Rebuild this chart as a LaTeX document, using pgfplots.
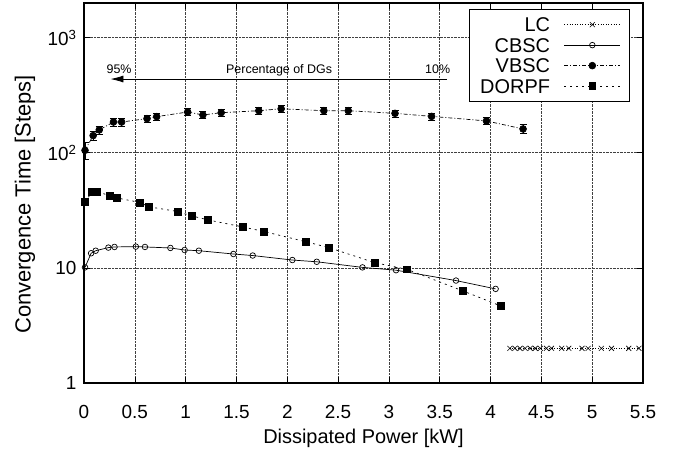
\documentclass[border=0pt]{standalone}
\usepackage{fontspec}
\setmainfont{Liberation Sans}
\usepackage{pgfplots}
\pgfplotsset{compat=1.18}
\usetikzlibrary{arrows.meta}

\pgfplotstableread{
x y
4.19 2
4.24 2
4.29 2
4.34 2
4.39 2
4.44 2
4.49 2
4.55 2
4.60 2
4.70 2
4.77 2
4.90 2
4.96 2
5.09 2
5.19 2
5.36 2
5.46 2
}\lc

\pgfplotstableread{
x y
0.01 10.1
0.07 13.4
0.115 14.1
0.24 15.0
0.30 15.2
0.51 15.3
0.60 15.2
0.85 14.9
0.99 14.3
1.13 14.1
1.47 13.2
1.66 12.8
2.05 11.7
2.29 11.3
2.74 10.1
3.07 9.55
3.66 7.76
4.05 6.57
}\cbsc

\pgfplotstableread{
x y e
0.01 105 17
0.09 141 14
0.15 158 13
0.29 185 15
0.37 185 14
0.62 198 13
0.715 206 14
1.02 226 15
1.17 213 14
1.35 223 15
1.72 232 15
1.94 241 16
2.36 232 15
2.60 232 15
3.06 220 15
3.42 207 14
3.96 189 13
4.32 161 14
}\vbsc

\pgfplotstableread{
x y
0.01 37.3
0.08 45.8
0.125 45.8
0.256 42.5
0.32 40.6
0.55 37.0
0.64 33.9
0.92 30.9
1.06 28.3
1.22 26.1
1.56 22.7
1.77 20.7
2.18 16.9
2.41 15.0
2.86 11.1
3.18 9.7
3.73 6.3
4.10 4.67
}\dorpf

\begin{document}
\begin{tikzpicture}
\begin{axis}[
  scale only axis, width=559bp, height=380bp,
  xmin=0, xmax=5.5, ymin=1, ymax=2000, ymode=log,
  xtick={0,0.5,1,1.5,2,2.5,3,3.5,4,4.5,5,5.5},
  xticklabels={0,0.5,1,1.5,2,2.5,3,3.5,4,4.5,5,5.5},
  ytick={1,10,100,1000},
  yticklabels={1,10,10\textsuperscript{2},10\textsuperscript{3}},
  yminorticks=false,
  grid=major, grid style={densely dotted, black!75, line width=0.6bp},
  axis line style={line width=1.3bp},
  tick style={black, line width=0.6bp}, major tick length=6bp,
  tick align=inside,
  ticklabel style={font=\fontsize{19}{21}\selectfont},
  xticklabel style={anchor=base, yshift=-35bp},
  yticklabel style={anchor=east, xshift=-4bp},
  xlabel style={font=\fontsize{20}{22}\selectfont, at={(axis description cs:0.5,0)}, anchor=base, yshift=-60bp},
  ylabel style={font=\fontsize{22}{24}\selectfont, at={(axis description cs:0,0.47)}, anchor=center, yshift=59bp},
  xlabel={Dissipated Power [kW]},
  ylabel={Convergence Time [Steps]},
  legend style={at={(0.9767,0.984)}, anchor=north east,
    font=\fontsize{20}{20}\selectfont, draw=black, line width=0.6bp,
    row sep=0bp, column sep=12bp, inner xsep=9bp, inner ysep=5bp,
    nodes={text height=14.5bp, text depth=0bp, inner ysep=3bp}},
  legend cell align=right,
  legend plot pos=right,
  legend image code/.code={\draw[mark repeat=2,mark phase=2,#1] plot coordinates {(0bp,0bp) (28bp,0bp) (56bp,0bp)};},
]
\addplot[black, dotted, line width=0.6bp, mark=x, mark size=3.5bp, mark options={solid}] table {\lc};
\addlegendentry{LC}
\addplot[black, solid, line width=0.7bp, mark=o, mark size=2.8bp, mark options={fill=white}] table {\cbsc};
\addlegendentry{CBSC}
\addplot[black, line width=0.7bp, dash pattern=on 4bp off 2bp on 1bp off 2bp, mark=*, mark size=3.4bp, mark options={solid},
  error bars/.cd, y dir=both, y explicit,
  error bar style={solid, line width=0.7bp},
  error mark options={rotate=90, mark size=3.5bp, solid, line width=0.7bp}] table[y error=e] {\vbsc};
\addlegendentry{VBSC}
\addplot[black, line width=0.7bp, dash pattern=on 2bp off 4bp, mark=square*, mark size=3.4bp, mark options={solid}] table {\dorpf};
\addlegendentry{DORPF}
\addplot[black, line width=0.8bp, -{Latex[length=13bp,width=7bp]}, forget plot] coordinates {(3.57,437) (0.26,437)};
\node[font=\fontsize{12.5}{14}\selectfont, anchor=base] at (axis cs:0.345,486) {95\%};
\node[font=\fontsize{12.5}{14}\selectfont, anchor=base] at (axis cs:1.92,486) {Percentage of DGs};
\node[font=\fontsize{12.5}{14}\selectfont, anchor=base] at (axis cs:3.48,486) {10\%};
\end{axis}
\pgfresetboundingbox
\path ([shift={(-84bp,-69bp)}]current axis.south west) rectangle ([shift={(43bp,3bp)}]current axis.north east);
\end{tikzpicture}
\end{document}
